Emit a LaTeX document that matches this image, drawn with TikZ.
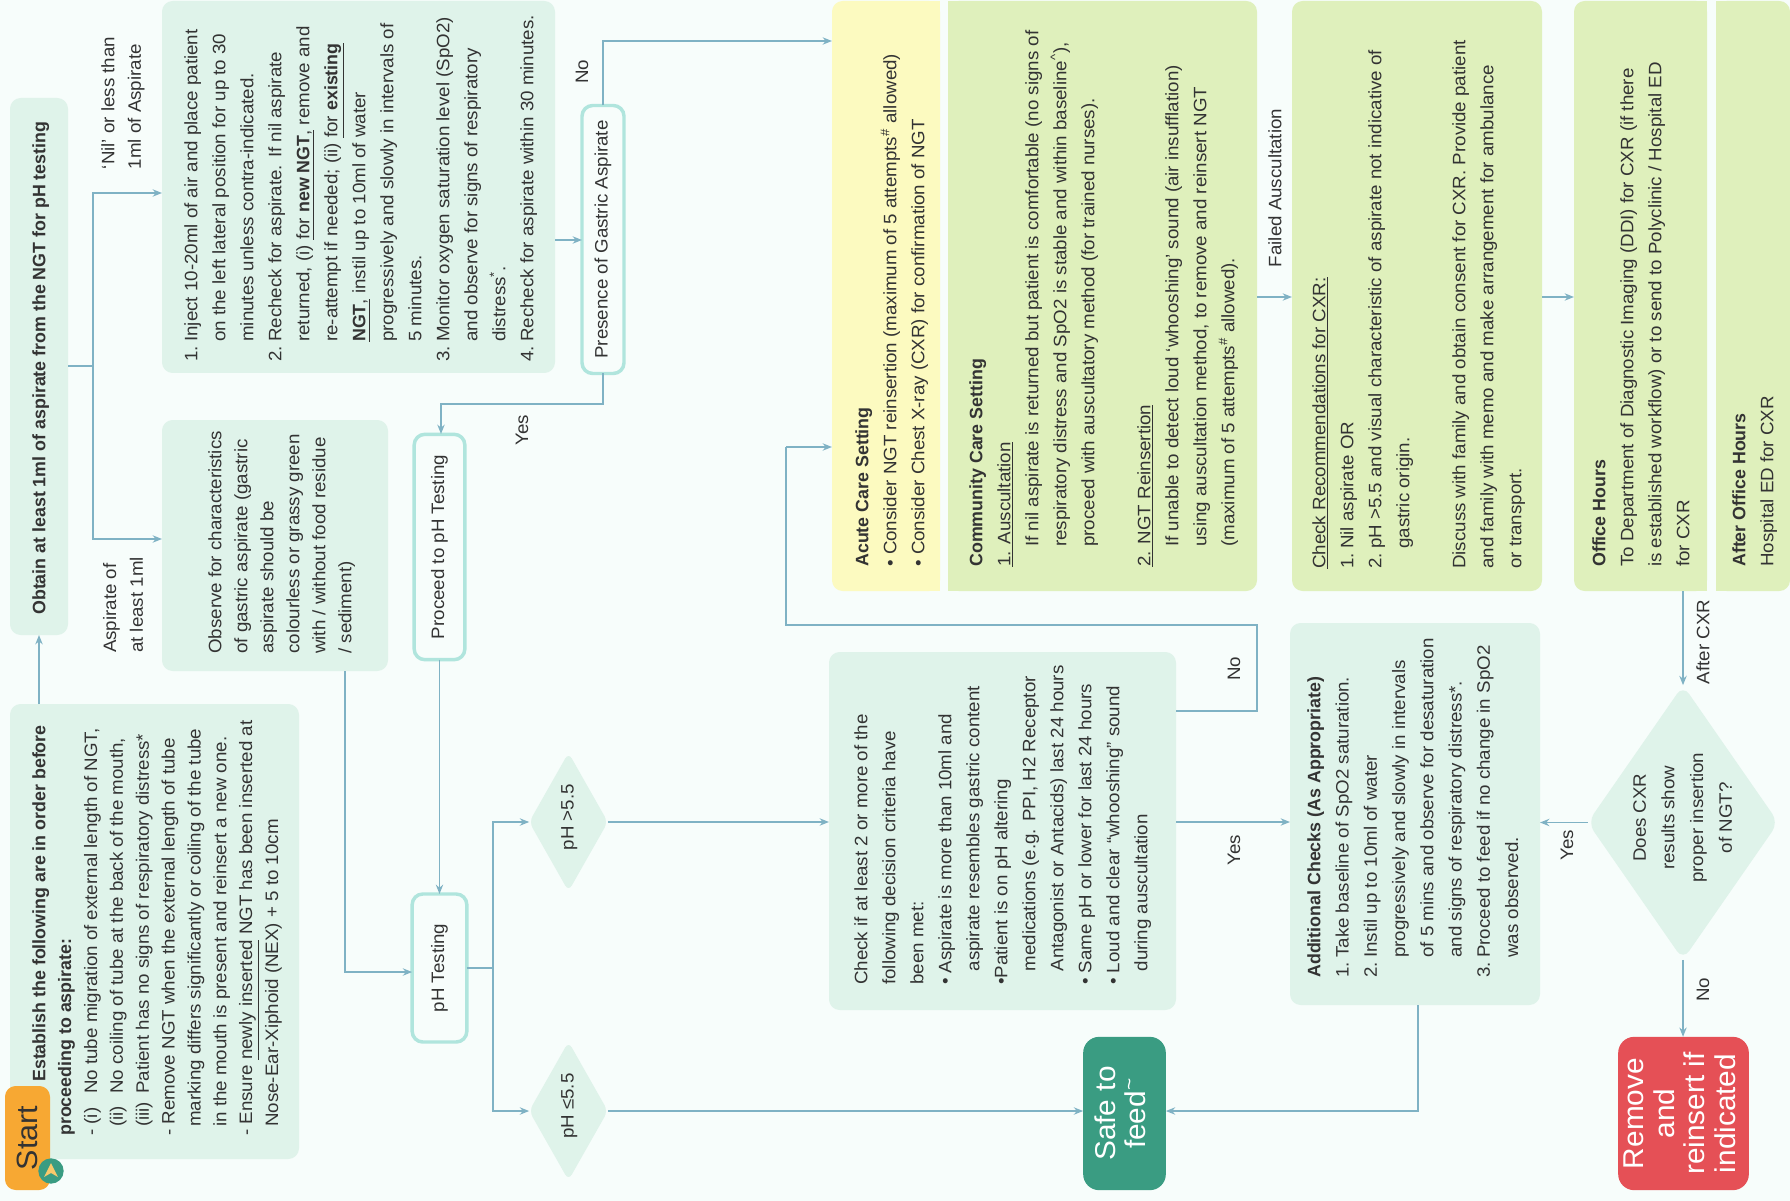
\documentclass[tikz,border=0pt]{standalone}
\usepackage{fontspec}
\setmainfont{Liberation Sans}[FakeStretch=1.04,BoldFeatures={FakeStretch=0.99}]
\usetikzlibrary{arrows.meta,shapes.geometric}
\definecolor{bgc}{HTML}{F7FDFB}
\definecolor{boxc}{HTML}{DFF3EA}
\definecolor{edgec}{HTML}{B0E5DD}
\definecolor{linec}{HTML}{7FB2C4}
\definecolor{yelc}{HTML}{FCFAC0}
\definecolor{limec}{HTML}{DFF0BC}
\definecolor{oranc}{HTML}{F7A833}
\definecolor{tealc}{HTML}{3A9C82}
\definecolor{redc}{HTML}{E55056}
\definecolor{txtc}{HTML}{333333}
\tikzset{
  px/.style={x=0.75pt,y=-0.75pt},
  shp/.style={rectangle,inner sep=0pt,outer sep=0pt,rounded corners=8pt},
  softbox/.style={shp,fill=boxc},
  limebox/.style={shp,fill=limec},
  yelbox/.style={shp,fill=yelc},
  capsule/.style={shp,fill=bgc,draw=edgec,line width=2.6pt,text=txtc,font=\fontsize{13.5}{19}\selectfont},
  txt/.style={rotate=90,anchor=north west,align=left,inner sep=0pt,text=txtc},
  lab/.style={rotate=90,anchor=center,align=left,inner sep=0pt,text=txtc,font=\fontsize{13.5}{20}\selectfont},
  flow/.style={draw=linec,line width=1.4pt},
  arr/.style={flow,-{Stealth[length=7pt,width=5.5pt]}},
  dia/.style={diamond,fill=boxc,inner sep=0pt,outer sep=0pt,rounded corners=5pt,text=txtc},
  bigw/.style={shp,rounded corners=12pt,text=white,align=center,font=\fontsize{21.5}{23}\selectfont},
}
\newcommand\pbox[6][softbox]{\node[#1,minimum width={(#5-#3)*0.75pt},minimum height={(#6-#4)*0.75pt}] (#2) at ({(#3+#5)/2},{(#4+#6)/2}) {};}
\newcommand\tx[5]{\node[txt,font=\fontsize{13.5}{#4}\selectfont] (#1) at (#2,#3) {#5};}
\newcommand\hg[1]{\makebox[15pt][l]{#1}}
\newcommand\ind{\hspace*{15pt}}
\newcommand\rot[1]{\rotatebox{90}{#1}}
\newcommand\zt[1]{\smash{\makebox[0pt]{\rotatebox[origin=c]{90}{\begin{tabular}{@{}c@{}}#1\end{tabular}}}}}
\begin{document}
\begin{tikzpicture}[px]
\useasboundingbox (0,0) rectangle (1790,1201);
\fill[bgc] (0,0) rectangle (1790,1201);
% boxes
\pbox{establish}{10}{704}{299}{1159}
\pbox{obtain}{10}{98}{68}{635}
\pbox{inject}{162}{1}{555}{373}
\pbox{observe}{162}{420}{388}{671}
\pbox{checkc}{829}{652}{1176}{1010}
\pbox{additional}{1290}{623}{1540}{1005}
\pbox[yelbox]{acute}{832}{1}{940}{591}
\fill[yelc] (900,1) rectangle (940,591);
\pbox[limebox]{community}{948}{1}{1257}{591}
\fill[limec] (948,1) rectangle (1000,591);
\pbox[limebox]{recs}{1292}{1}{1542}{591}
\pbox[limebox]{office}{1574}{1}{1707}{591}
\fill[limec] (1660,1) rectangle (1707,591);
\pbox[limebox]{after}{1716}{1}{1790}{591}
\fill[limec] (1716,1) rectangle (1750,591);
% capsule and decision nodes
\node[capsule,minimum width=31.5pt,minimum height=201pt] (presence) at (603,239.5) {\rot{Presence of Gastric Aspirate}};
\node[capsule,minimum width=38pt,minimum height=169pt] (proceed) at (439.5,547) {\rot{Proceed to pH Testing}};
\node[capsule,minimum width=41pt,minimum height=111pt] (phtest) at (439.5,968) {\rot{pH Testing}};
\node[dia,minimum width=59pt,minimum height=104pt,font=\fontsize{13.5}{19}\selectfont] (phhigh) at (568.5,822) {\zt{pH >5.5}};
\node[dia,minimum width=59pt,minimum height=104pt,font=\fontsize{13.5}{19}\selectfont] (phlow) at (568.5,1111) {\zt{pH ≤5.5}};
\node[dia,minimum width=143pt,minimum height=206pt,rounded corners=8pt,font=\fontsize{13.5}{21.5}\selectfont] (cxr) at (1683,822.5) {\zt{Does CXR\\results show\\proper insertion\\of NGT?}};
\node[bigw,fill=tealc,minimum width=62pt,minimum height=115pt] (safe) at (1124.5,1113.5) {\rot{\raisebox{-3.5pt}{\begin{tabular}{@{}c@{}}Safe to\\feed\textsuperscript{\textasciitilde}\end{tabular}}}};
\node[bigw,fill=redc,minimum width=98pt,minimum height=115pt] (remove) at (1683.5,1113.5) {\rot{\raisebox{-3.5pt}{\begin{tabular}{@{}c@{}}Remove\\and\\reinsert if\\indicated\end{tabular}}}};
% text
\tx{tobtain}{32}{615}{19}{\textbf{Obtain at least 1ml of aspirate from the NGT for pH testing}}
\tx{testablish}{32}{1136}{19.4}{\hspace*{40.5pt}\textbf{Establish the following are in order before}\\
\textbf{proceeding to aspirate:}\\
\makebox[31.5pt][l]{- (i)}No tube migration of external length of NGT,\\
\hspace*{6.75pt}\makebox[24.75pt][l]{(ii)}No coiling of tube at the back of the mouth,\\
\hspace*{6.75pt}\makebox[24.75pt][l]{(iii)}Patient has no signs of respiratory distress*\\
- Remove NGT when the external length of tube\\
\hspace*{6.75pt}marking differs significantly or coiling of the tube\\
\hspace*{6.75pt}in the mouth is present and reinsert a new one.\\
- Ensure \underline{newly inserted} NGT has been inserted at\\
\hspace*{6.75pt}Nose-Ear-Xiphoid (NEX) + 5 to 10cm}
\tx{tinject}{184}{362}{21}{\hg{1.}Inject 10-20ml of air and place patient\\
\ind on the left lateral position for up to 30\\
\ind minutes unless contra-indicated.\\
\hg{2.}Recheck for aspirate. If nil aspirate\\
\ind returned, (i) \underline{for \textbf{new NGT},} remove and\\
\ind re-attempt if needed; (ii) \underline{for \textbf{existing}}\\
\ind \underline{\textbf{NGT},} instil up to 10ml of water\\
\ind progressively and slowly in intervals of\\
\ind 5 minutes.\\
\hg{3.}Monitor oxygen saturation level (SpO2)\\
\ind and observe for signs of respiratory\\
\ind distress\textsuperscript{*}.\\
\hg{4.}Recheck for aspirate within 30 minutes.}
\tx{tobserve}{208}{654}{19.5}{Observe for characteristics\\
of gastric aspirate (gastric\\
aspirate should be\\
colourless or grassy green\\
with / without food residue\\
/ sediment)}
\tx{tacute}{855}{567}{21}{\textbf{Acute Care Setting}\\
• Consider NGT reinsertion (maximum of 5 attempts\textsuperscript{\#} allowed)\\
• Consider Chest X-ray (CXR) for confirmation of NGT}
\tx{tcomm}{969}{567}{21}{\textbf{Community Care Setting}\\
\underline{1. Auscultation}\\
\ind If nil aspirate is returned but patient is comfortable (no signs of\\
\ind respiratory distress and SpO2 is stable and within baseline\textsuperscript{\textasciicircum}),\\
\ind proceed with auscultatory method (for trained nurses).\\[21pt]
\underline{2. NGT Reinsertion}\\
\ind If unable to detect loud ‘whooshing’ sound (air insufflation)\\
\ind using auscultation method, to remove and reinsert NGT\\
\ind (maximum of 5 attempts\textsuperscript{\#} allowed).}
\tx{trecs}{1312}{569}{21}{\underline{Check Recommendations for CXR:}\\
\hg{1.}Nil aspirate OR\\
\hg{2.}pH >5.5 and visual characteristic of aspirate not indicative of\\
\ind gastric origin.\\[21pt]
Discuss with family and obtain consent for CXR. Provide patient\\
and family with memo and make arrangement for ambulance\\
or transport.}
\tx{toffice}{1592}{567}{21}{\textbf{Office Hours}\\
To Department of Diagnostic Imaging (DDI) for CXR (if there\\
is established workflow) or to send to Polyclinic / Hospital ED\\
for CXR}
\tx{tafter}{1732}{567}{21}{\textbf{After Office Hours}\\
Hospital ED for CXR}
\tx{tcheck}{854}{985}{21}{Check if at least 2 or more of the\\
following decision criteria have\\
been met:\\
• Aspirate is more than 10ml and\\
\hspace*{10pt}aspirate resembles gastric content\\
•Patient is on pH altering\\
\hspace*{10pt}medications (e.g. PPI, H2 Receptor\\
\hspace*{10pt}Antagonist or Antacids) last 24 hours\\
• Same pH or lower for last 24 hours\\
• Loud and clear “whooshing” sound\\
\hspace*{10pt}during auscultation}
\tx{tadd}{1307}{978}{21.2}{\textbf{Additional Checks (As Appropriate)}\\
\hg{1.}Take baseline of SpO2 saturation.\\
\hg{2.}Instil up to 10ml of water\\
\ind progressively and slowly in intervals\\
\ind of 5 mins and observe for desaturation\\
\ind and signs of respiratory distress*.\\
\hg{3.}Proceed to feed if no change in SpO2\\
\ind was observed.}
% connector end coordinates
\coordinate (obtainout) at (obtain.east |- 0,366);
\coordinate (branchA) at (93,366);
\coordinate (branchB) at (493,968);
% connectors
\draw[arr] (establish.north -| obtain) -- (obtain.south);
\draw[flow] (obtainout) -- (branchA);
\draw[arr] (branchA) |- (inject.west |- 0,193);
\draw[arr] (branchA) |- (observe.west |- 0,539);
\draw[arr] (observe.south -| 345,0) |- (phtest.west |- 0,972);
\draw[arr] (inject.east |- 0,240) -- (presence.west |- 0,240);
\draw[arr] (presence.north) |- (acute.west |- 0,41);
\draw[arr] (presence.south) |- (441,404) -- (441,434);
\draw[arr] (proceed.south) -- (phtest.north);
\draw[flow] (phtest.east) -- (branchB);
\draw[arr] (branchB) |- (phhigh.west);
\draw[arr] (branchB) |- (phlow.west);
\draw[arr] (phhigh.east) -- (checkc.west |- phhigh.east);
\draw[arr] (phlow.east) -- (safe.west |- phlow.east);
\draw[flow] (checkc.east |- 0,711) -| (1257,625) -| (786,447);
\draw[arr] (786,447) -- (acute.west |- 0,447);
\draw[arr] (checkc.east |- 0,822) -- (additional.west |- 0,822);
\draw[arr] (additional.south -| 1418,0) |- (safe.east |- 0,1111);
\draw[arr] (community.east |- 0,297) -- (recs.west |- 0,297);
\draw[arr] (recs.east |- 0,297) -- (office.west |- 0,297);
\draw[arr] (office.south -| cxr) -- (cxr.north);
\draw[arr] (cxr.west) -- (additional.east |- cxr.west);
\draw[arr] (cxr.south) -- (remove.north -| cxr.south);
% start marker
\node[shp,fill=oranc,minimum width=33.75pt,minimum height=78pt,text=txtc,font=\fontsize{22}{24}\selectfont] (start) at (27.5,1138) {\rot{Start}};
\node[circle,fill=tealc,minimum size=19pt,inner sep=0pt] (marker) at (51,1171) {};
\fill[yelc!40!oranc] (51,1163) -- (58,1177) -- (51,1173) -- (44,1177) -- cycle;
% labels
\node[lab] (l1) at (123,103) {‘Nil’ or less than\\1ml of Aspirate};
\node[lab] (l2) at (123,605) {Aspirate of\\at least 1ml};
\node[lab] (l3) at (582,72) {No};
\node[lab] (l4) at (522,430) {Yes};
\node[lab] (l5) at (1234,669) {No};
\node[lab] (l6) at (1234,850) {Yes};
\node[lab] (l7) at (1275,188) {Failed Auscultation};
\node[lab] (l8) at (1703,642) {After CXR};
\node[lab] (l9) at (1567,845) {Yes};
\node[lab] (l10) at (1703,990) {No};
\end{tikzpicture}
\end{document}
